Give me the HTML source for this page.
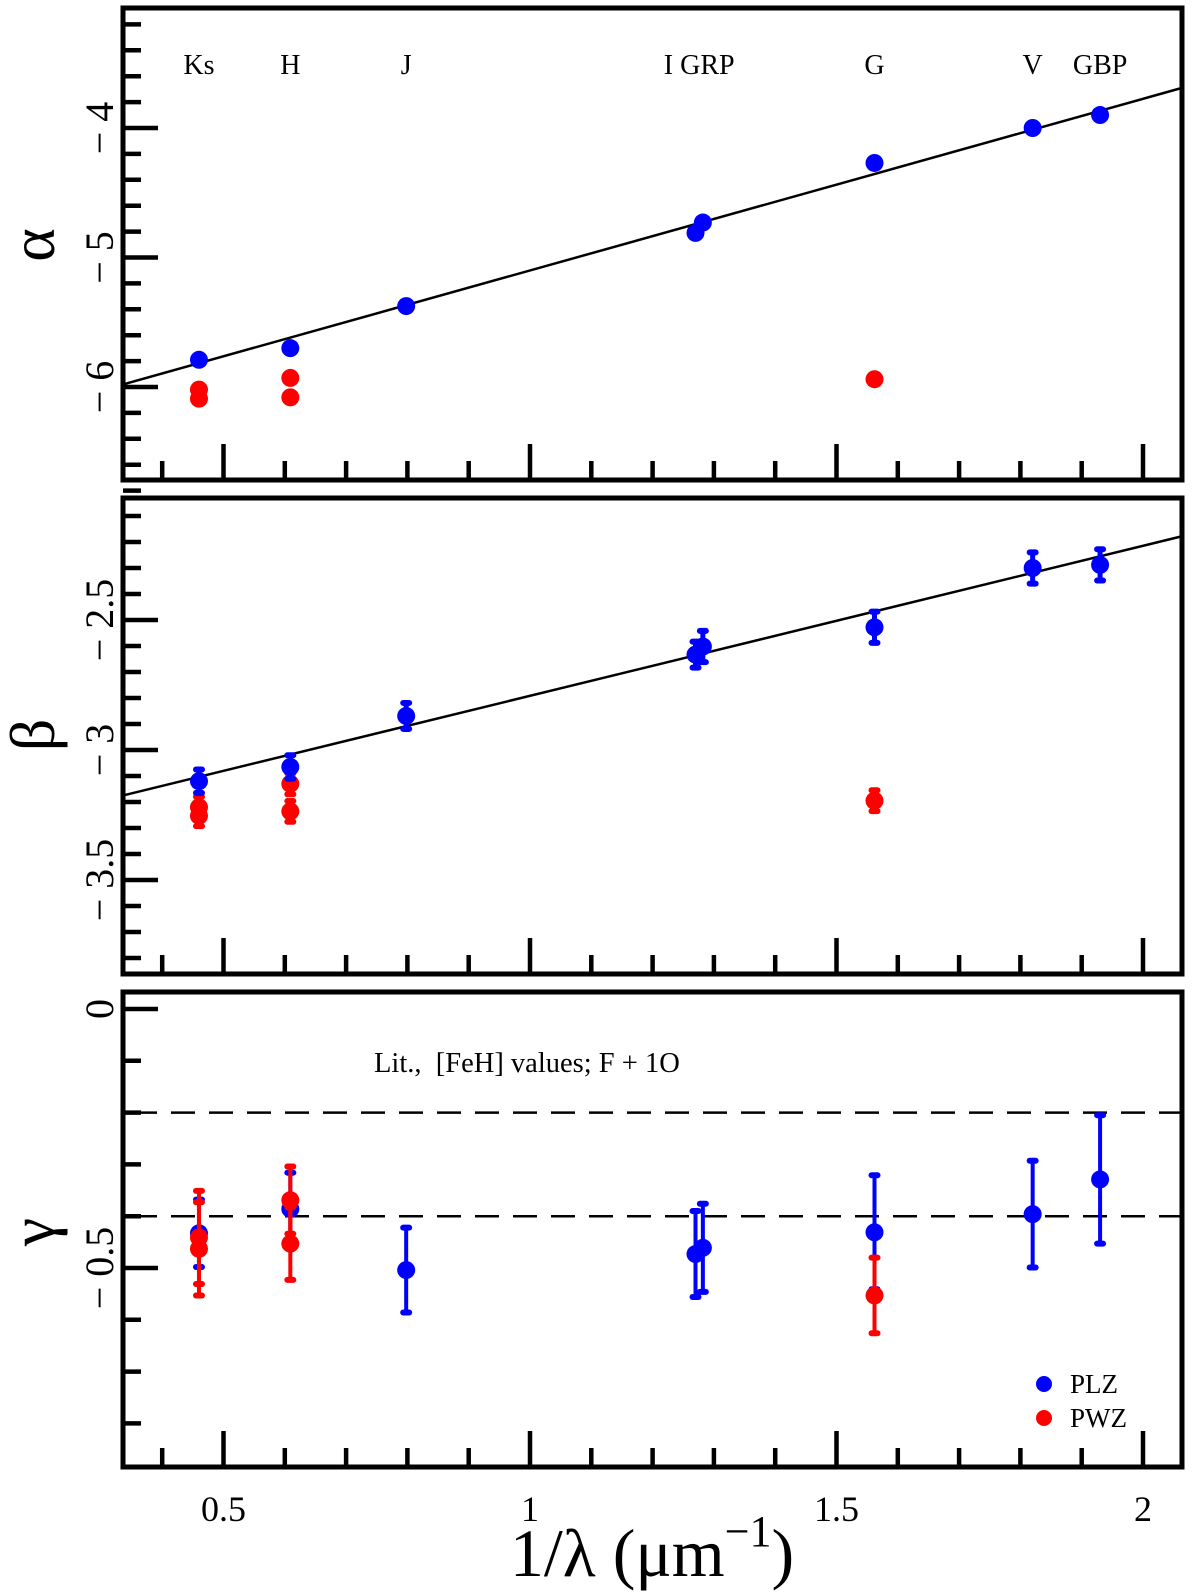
<!DOCTYPE html>
<html><head><meta charset="utf-8"><style>
html,body{margin:0;padding:0;background:#fff;}
svg{display:block;font-family:"Liberation Serif",serif;}
</style></head><body>
<svg id="chart" width="1200" height="1596" viewBox="0 0 1200 1596" xmlns="http://www.w3.org/2000/svg"></svg>
<script>
// ---- data ----
const bands = ["Ks","H","J","I","GRP","G","V","GBP"];
const bandX = [0.460,0.609,0.798,1.270,1.282,1.562,1.820,1.930];
const alphaPLZ = [-5.79,-5.70,-5.375,-4.81,-4.73,-4.27,-4.00,-3.90];
const alphaPWZx = [0.460,0.460,0.609,0.609,1.562];
const alphaPWZ = [-6.02,-6.09,-5.93,-6.08,-5.94];
const alphaFit = [1.3245,-6.424]; // slope, intercept
const betaPLZ = [-3.12,-3.065,-2.869,-2.633,-2.602,-2.528,-2.30,-2.288];
const betaPLZerr = [0.045,0.045,0.05,0.05,0.06,0.06,0.06,0.06];
const betaPWZx = [0.460,0.460,0.609,0.609,1.562];
const betaPWZ = [-3.22,-3.253,-3.13,-3.236,-3.195];
const betaPWZerr = [0.04,0.04,0.04,0.04,0.04];
const betaFit = [0.5766,-3.368];
const gammaPLZ = [-0.433,-0.386,-0.504,-0.473,-0.461,-0.431,-0.396,-0.329];
const gammaPLZerr = [0.065,0.07,0.082,0.083,0.085,0.11,0.103,0.124];
const gammaPWZx = [0.460,0.460,0.609,0.609,1.562];
const gammaPWZ = [-0.441,-0.463,-0.369,-0.453,-0.553];
const gammaPWZerr = [0.09,0.09,0.065,0.07,0.073];
const gammaRefs = [-0.2,-0.4];
const xTicks = [0.5,1,1.5,2];
const xTickLabels = ["0.5","1","1.5","2"];

// ---- layout ----
const svg = document.getElementById('chart');
const NS = "http://www.w3.org/2000/svg";
const L = 123, R = 1182;
const X = v => 223.5 + (v-0.5)*613;
const panels = [
  {name:'alpha', top:8, bot:480, y:v=>128+(-4-v)*129.5, vmin:-6.8, vmax:-3.1, step:0.2, majors:[-4,-5,-6], labels:["− 4","− 5","− 6"], sym:"α", symY:245},
  {name:'beta', top:498, bot:974, y:v=>620+(-2.5-v)*260, vmin:-3.87, vmax:-2.05, step:0.1, majors:[-2.5,-3,-3.5], labels:["− 2.5","− 3","− 3.5"], sym:"β", symY:735},
  {name:'gamma', top:992, bot:1467, y:v=>1009+(-v)*518, vmin:-0.88, vmax:0.0, step:0.1, majors:[0,-0.5], labels:["0","− 0.5"], sym:"γ", symY:1232}
];
function el(tag, attrs, parent){
  const e = document.createElementNS(NS, tag);
  for (const k in attrs) e.setAttribute(k, attrs[k]);
  (parent||svg).appendChild(e);
  return e;
}
function txt(s, attrs, parent){ const t = el('text', attrs, parent); t.textContent = s; return t; }

panels.forEach(p=>{
  const g = el('g',{});
  
  
  const n0 = Math.ceil(p.vmin/p.step-1e-6), n1 = Math.floor(p.vmax/p.step+1e-6);
  for (let i=n0;i<=n1;i++){
    const v = i*p.step; const yy = p.y(v);
    const major = p.majors.some(m=>Math.abs(m-v)<1e-6);
    const t = el('line',{x1:L,x2:L+(major?35:18),y1:yy,y2:yy,stroke:'#000','stroke-width':4.5},g);
    
    
  }
  p.majors.forEach((m,i)=>{
    const yy = p.y(m);
    const t = txt(p.labels[i],{x:0,y:0,transform:`translate(113,${yy}) rotate(-90)`,'text-anchor':'middle','font-size':40,style:'white-space:pre'},g);
    
    
  });
  for (let i=4;i<=20;i++){
    const v=i/10, xx=X(v); const major = i%5===0;
    const t = el('line',{x1:xx,x2:xx,y1:p.bot,y2:p.bot-(major?36:19),stroke:'#000','stroke-width':4.5},g);
    
    
  }
  const fr = el('rect',{x:L,y:p.top,width:R-L,height:p.bot-p.top,fill:'none',stroke:'#000','stroke-width':5},g);
  
  
  const sl = txt(p.sym,{x:0,y:0,transform:`translate(54,${p.symY}) rotate(-90)`,'text-anchor':'middle','font-size':64},g);
  
  
  p.g = g;
});

function fitLine(p, fit){
  const a=0.335, b=2.064;
  const ln = el('line',{x1:L,y1:p.y(fit[0]*a+fit[1]),x2:R,y2:p.y(fit[0]*b+fit[1]),stroke:'#000','stroke-width':2.5},p.g);
  
  
}
function point(p, xv, yv, err, color, nm, thick){
  const g = el('g',{},p.g);
  
  
  const cx = X(xv), cy = p.y(yv);
  if (err){
    const y1 = p.y(yv+err), y2 = p.y(yv-err);
    el('line',{x1:cx,x2:cx,y1:y1,y2:y2,stroke:color,'stroke-width':thick},g);
    el('rect',{x:cx-6,y:y1-3,width:12,height:6,rx:3,fill:color},g);
    el('rect',{x:cx-6,y:y2-3,width:12,height:6,rx:3,fill:color},g);
  }
  el('circle',{cx:cx,cy:cy,r:9,fill:color},g);
}
const pA=panels[0], pB=panels[1], pG=panels[2];
fitLine(pA, alphaFit);
alphaPWZ.forEach((v,i)=>point(pA, alphaPWZx[i], v, 0, '#ff0000', 'alpha-pwz-point'));
alphaPLZ.forEach((v,i)=>point(pA, bandX[i], v, 0, '#0000ff', 'alpha-plz-point-'+bands[i].toLowerCase()));
fitLine(pB, betaFit);
betaPWZ.forEach((v,i)=>point(pB, betaPWZx[i], v, betaPWZerr[i], '#ff0000', 'beta-pwz-point', 5));
betaPLZ.forEach((v,i)=>point(pB, bandX[i], v, betaPLZerr[i], '#0000ff', 'beta-plz-point-'+bands[i].toLowerCase(), 5));
gammaRefs.forEach(v=>{
  const d = el('line',{x1:L+2,x2:R-2,y1:pG.y(v),y2:pG.y(v),stroke:'#000','stroke-width':2.5,'stroke-dasharray':'24,14','stroke-dashoffset':-8},pG.g);
  
  
});
gammaPLZ.forEach((v,i)=>point(pG, bandX[i], v, gammaPLZerr[i], '#0000ff', 'gamma-plz-point-'+bands[i].toLowerCase(), 4));
gammaPWZ.forEach((v,i)=>point(pG, gammaPWZx[i], v, gammaPWZerr[i], '#ff0000', 'gamma-pwz-point', 4));

const bandLabelX = [0.460,0.609,0.798,1.276,1.562,1.820,1.930];
const bandLabelTxt = ["Ks","H","J","I GRP","G","V","GBP"];
bandLabelTxt.forEach((s,i)=>{
  const t = txt(s,{x:X(bandLabelX[i]),y:74,'text-anchor':'middle','font-size':28});
  
  
});
xTicks.forEach((v,i)=>{
  const t = txt(xTickLabels[i],{x:X(v),y:1521,'text-anchor':'middle','font-size':36});
  
  
});
const an = txt("Lit.,  [FeH] values; F + 1O",{x:374,y:1072,'font-size':28.5,style:'white-space:pre'});


const lg = el('g',{});


el('circle',{cx:1044,cy:1384,r:8,fill:'#0000ff'},lg);
txt("PLZ",{x:1070,y:1393,'font-size':27},lg);
el('circle',{cx:1044,cy:1418,r:8,fill:'#ff0000'},lg);
txt("PWZ",{x:1070,y:1427,'font-size':27},lg);
const xt = txt("",{x:652,y:1576,'text-anchor':'middle','font-size':68});


const ts1 = el('tspan',{},xt); ts1.textContent = "1/λ (μm";
const ts2 = el('tspan',{dy:-30,'font-size':44},xt); ts2.textContent = "−1";
const ts3 = el('tspan',{dy:30},xt); ts3.textContent = ")";
</script>
</body></html>
